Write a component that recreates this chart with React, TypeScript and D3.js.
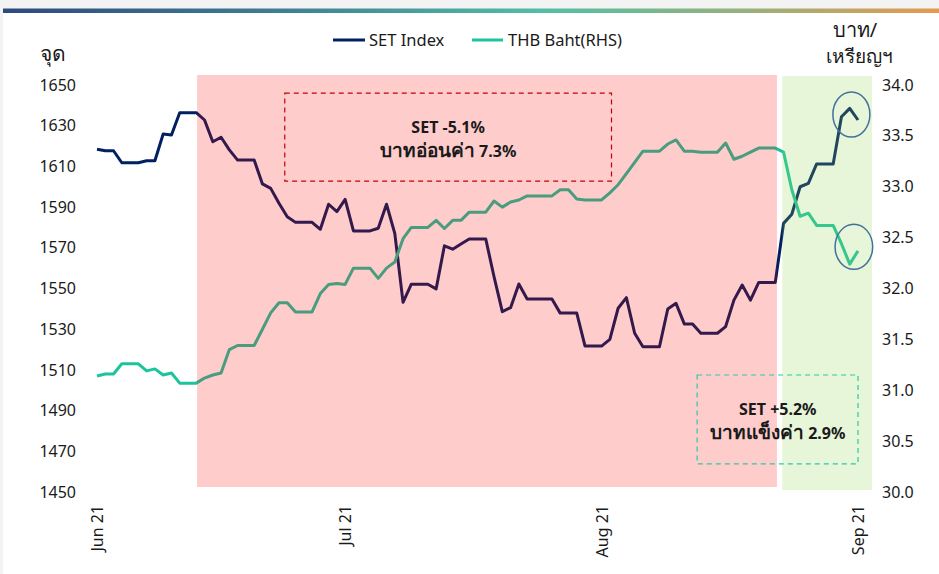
import React from "react";
import * as d3 from "d3";

const monthLabels = ["Jun 21", "Jul 21", "Aug 21", "Sep 21"];
const monthIndex = [0, 30, 61, 92];

const setIndex = [
  1618.4, 1617.7, 1617.7, 1611.8, 1611.8, 1611.8, 1612.8, 1612.8, 1625.9, 1625.4,
  1636.4, 1636.4, 1636.4, 1632.8, 1622.1, 1624.3, 1618.1, 1613.1, 1613.1, 1613.1,
  1601.4, 1599.2, 1591.9, 1585.3, 1582.5, 1582.5, 1582.5, 1579.1, 1591.4, 1587.8,
  1593.8, 1578.3, 1578.3, 1578.3, 1579.6, 1591.4, 1577.1, 1543.2, 1552.1, 1552.1,
  1552.1, 1549.8, 1571.0, 1569.3, 1571.9, 1574.3, 1574.3, 1574.3, 1555.8, 1538.6,
  1540.6, 1552.2, 1544.8, 1544.8, 1544.8, 1544.8, 1537.9, 1537.9, 1537.9, 1521.7,
  1521.7, 1521.7, 1525.0, 1540.3, 1545.5, 1528.0, 1521.4, 1521.4, 1521.4, 1539.9,
  1542.7, 1532.6, 1532.6, 1528.0, 1528.0, 1528.0, 1531.3, 1544.3, 1551.7, 1544.3,
  1553.0, 1553.0, 1553.0, 1582.0, 1586.5, 1600.0, 1601.7, 1611.2, 1611.2, 1611.2,
  1634.4, 1638.5, 1632.8,
];

const thbBaht = [
  31.14, 31.16, 31.16, 31.26, 31.26, 31.26, 31.19, 31.21, 31.15, 31.17,
  31.07, 31.07, 31.07, 31.12, 31.15, 31.17, 31.40, 31.44, 31.44, 31.44,
  31.60, 31.76, 31.86, 31.86, 31.77, 31.77, 31.77, 31.95, 32.04, 32.05,
  32.04, 32.20, 32.20, 32.20, 32.10, 32.20, 32.26, 32.49, 32.60, 32.60,
  32.60, 32.67, 32.59, 32.67, 32.67, 32.75, 32.75, 32.75, 32.86, 32.80,
  32.85, 32.87, 32.91, 32.91, 32.91, 32.91, 32.97, 32.97, 32.88, 32.87,
  32.87, 32.87, 32.94, 33.02, 33.13, 33.24, 33.35, 33.35, 33.35, 33.42,
  33.46, 33.35, 33.35, 33.34, 33.34, 33.34, 33.43, 33.27, 33.30, 33.34,
  33.38, 33.38, 33.38, 33.34, 32.97, 32.71, 32.74, 32.62, 32.62, 32.62,
  32.44, 32.24, 32.37,
];

const leftTicks = [1450, 1470, 1490, 1510, 1530, 1550, 1570, 1590, 1610, 1630, 1650];
const rightTicks = [30.0, 30.5, 31.0, 31.5, 32.0, 32.5, 33.0, 33.5, 34.0];

// shaded periods (day index)
const weakPeriod = [12.1, 82.2];
const strongPeriod = [82.85, 93.7];

const W = 939;
const H = 574;
const FONT = "'Noto Sans', 'Open Sans', sans-serif";

export default function App() {
  const x = d3.scaleLinear().domain([0, 92]).range([97, 858]);
  const yL = d3.scaleLinear().domain([1450, 1650]).range([492, 85]);
  const yR = d3.scaleLinear().domain([30, 34]).range([492, 85]);

  const setLine = d3
    .line<number>()
    .x((_, i) => x(i))
    .y((d) => yL(d));
  const thbLine = d3
    .line<number>()
    .x((_, i) => x(i))
    .y((d) => yR(d));

  const navy = "#002060";
  const teal = "#1CC49D";
  const ink = "#1a1a1a";

  return (
    <svg
      width={W}
      height={H}
      style={{ position: "absolute", left: 0, top: 0, display: "block" }}
      fontFamily={FONT}
    >
      <defs>
        <linearGradient id="topbar" x1="0" x2="1" y1="0" y2="0">
          <stop offset="0" stopColor="#2E4A7D" />
          <stop offset="0.3" stopColor="#3F7F94" />
          <stop offset="0.58" stopColor="#52BFA5" />
          <stop offset="0.8" stopColor="#9AB07A" />
          <stop offset="1" stopColor="#E59A50" />
        </linearGradient>
      </defs>
      <rect x={0} y={0} width={W} height={H} fill="#F3F3F3" />
      <rect x={3} y={13} width={W - 3} height={H - 13} fill="#FFFFFF" />
      <rect x={3} y={8.5} width={W - 3} height={4.5} fill="url(#topbar)" />

      {/* lines */}
      <path d={setLine(setIndex) || ""} fill="none" stroke={navy} strokeWidth={3} strokeLinejoin="round" />
      <path d={thbLine(thbBaht) || ""} fill="none" stroke={teal} strokeWidth={3} strokeLinejoin="round" />

      {/* shaded periods drawn over lines */}
      <rect
        x={x(weakPeriod[0])}
        y={75}
        width={x(weakPeriod[1]) - x(weakPeriod[0])}
        height={412}
        fill="#FF0000"
        fillOpacity={0.2}
      />
      <rect
        x={x(strongPeriod[0])}
        y={76}
        width={x(strongPeriod[1]) - x(strongPeriod[0])}
        height={414}
        fill="#92D050"
        fillOpacity={0.22}
      />

      {/* annotation boxes */}
      <rect
        x={x(22.7)}
        y={yL(1646)}
        width={x(62.2) - x(22.7)}
        height={yL(1602.8) - yL(1646)}
        fill="none"
        stroke="#C00000"
        strokeWidth={1.2}
        strokeDasharray="5,4"
      />
      <text x={x(42.45)} y={133} textAnchor="middle" fontSize={16} fontWeight="bold" fill={ink}>
        SET -5.1%
      </text>
      <text x={x(42.45)} y={157} textAnchor="middle" fontSize={16} fontWeight="bold" fill={ink}>
        <tspan fontSize={19}>บาทอ่อนค่า</tspan> 7.3%
      </text>

      <rect
        x={x(72.55)}
        y={yL(1507.5)}
        width={x(92) - x(72.55)}
        height={yL(1463.8) - yL(1507.5)}
        fill="none"
        stroke="#2BC9A5"
        strokeWidth={1.2}
        strokeDasharray="5,4"
      />
      <text x={x(82.3)} y={415} textAnchor="middle" fontSize={16} fontWeight="bold" fill={ink}>
        SET +5.2%
      </text>
      <text x={x(82.3)} y={439} textAnchor="middle" fontSize={16} fontWeight="bold" fill={ink}>
        <tspan fontSize={19}>บาทแข็งค่า</tspan> 2.9%
      </text>

      {/* highlight circles */}
      <ellipse cx={x(91.2)} cy={yL(1635.5)} rx={18.5} ry={22.5} fill="none" stroke="#41719C" strokeWidth={1.5} />
      <ellipse cx={x(91.5)} cy={yR(32.41)} rx={18.8} ry={22.5} fill="none" stroke="#41719C" strokeWidth={1.5} />

      {/* left axis */}
      {leftTicks.map((t) => (
        <text key={"l" + t} x={76} y={yL(t)} dy="0.35em" textAnchor="end" fontSize={16} fill={ink}>
          {t}
        </text>
      ))}
      {/* right axis */}
      {rightTicks.map((t) => (
        <text key={"r" + t} x={882} y={yR(t)} dy="0.35em" textAnchor="start" fontSize={16} fill={ink}>
          {t.toFixed(1)}
        </text>
      ))}
      {/* x axis labels */}
      {monthLabels.map((m, i) => (
        <text
          key={m}
          transform={`translate(${x(monthIndex[i]) + 6},505) rotate(-90)`}
          textAnchor="end"
          fontSize={16}
          fill={ink}
        >
          {m}
        </text>
      ))}

      {/* axis titles */}
      <text x={53} y={61} textAnchor="middle" fontSize={21} fill={ink}>
        จุด
      </text>
      <text x={855} y={37} textAnchor="middle" fontSize={20} fill={ink}>
        บาท/
      </text>
      <text x={859} y={63} textAnchor="middle" fontSize={19} fill={ink}>
        เหรียญฯ
      </text>

      {/* legend */}
      <line x1={333} x2={365} y1={40} y2={40} stroke={navy} strokeWidth={3} />
      <text x={369} y={40} dy="0.35em" fontSize={16.5} fill={ink}>
        SET Index
      </text>
      <line x1={472} x2={503} y1={40} y2={40} stroke={teal} strokeWidth={3} />
      <text x={508} y={40} dy="0.35em" fontSize={16.5} fill={ink}>
        THB Baht(RHS)
      </text>
    </svg>
  );
}
